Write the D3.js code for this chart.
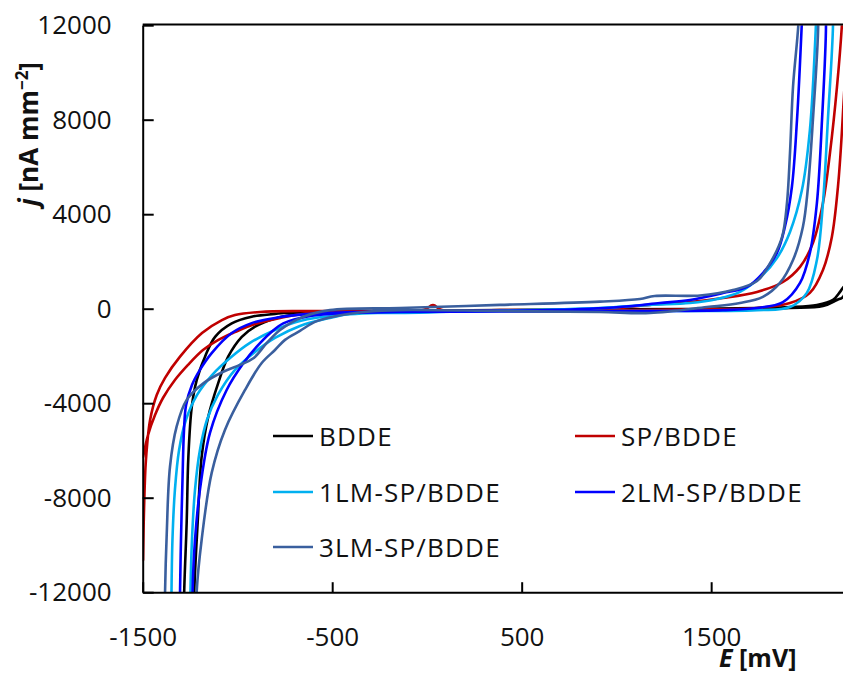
<!DOCTYPE html>
<html>
<head>
<meta charset="utf-8">
<script src="https://cdn.jsdelivr.net/npm/d3@7"></script>
<style>
  html, body { margin: 0; padding: 0; background: #fff; }
  svg { display: block; }
  text { font-family: "Open Sans", "Lato", sans-serif; fill: #111; }
</style>
</head>
<body>
<svg id="chart" width="843" height="675"></svg>
<script>
// ---------------- data (E in mV, j in nA mm^-2) ----------------
const seriesNames = ["BDDE", "SP/BDDE", "1LM-SP/BDDE", "2LM-SP/BDDE", "3LM-SP/BDDE"];
const seriesColors = ["#000000", "#C00000", "#00B0F0", "#0000FF", "#3A5F9E"];

const xTickValues = [-1500, -500, 500, 1500];
const yTickValues = [-12000, -8000, -4000, 0, 4000, 8000, 12000];

const bdde = [
  [-1283,-13500],[-1281,-11980],[-1268,-9070],[-1259,-6270],[-1241,-4150],[-1215,-3020],[-1171,-2030],
  [-1118,-1190],[-1030,-620],[-925,-340],[-802,-220],[-661,-130],[-142,-100],[385,-60],[913,-30],
  [1388,-10],[1742,30],[1916,70],[2058,160],[2143,370],[2180,710],[2195,880],[2220,1050],
  [2195,495],[2164,370],[2090,110],[1916,30],[1546,-10],[913,-60],[385,-80],[-142,-120],[-512,-140],
  [-661,-200],[-802,-410],[-907,-760],[-977,-1190],[-1049,-2030],[-1102,-3160],[-1154,-4570],
  [-1189,-6270],[-1210,-9070],[-1228,-11980],[-1230,-13500]
];
const spBdde = [
  [-1498,-6280],[-1472,-5350],[-1435,-4500],[-1393,-3780],[-1330,-3020],[-1261,-2380],
  [-1182,-1750],[-1103,-1330],[-1013,-990],[-907,-650],[-775,-390],[-617,-180],[-316,-100],[-20,-60],
  [32,150],[80,-60],[385,-60],[913,-10],[1177,160],[1388,280],[1562,450],[1742,710],[1879,1130],
  [1969,1770],[2037,2780],[2090,4470],[2127,6590],[2164,9390],[2190,12010],[2198,13500],[2215,12000],
  [2195,8200],[2169,5150],[2137,3040],[2090,1640],[2021,670],[1916,240],[1742,30],[1441,-30],[913,-60],
  [385,-80],[-142,-100],[-512,-100],[-670,-100],[-881,-140],[-1013,-270],[-1082,-480],[-1187,-1030],
  [-1303,-2030],[-1382,-2930],[-1426,-3650],[-1461,-4710],[-1483,-6410],[-1493,-8520],[-1498,-10640]
];
const lm1 = [
  [-1349,-13000],[-1348,-11990],[-1343,-9790],[-1330,-7670],[-1308,-5980],[-1272,-4710],[-1213,-3650],
  [-1134,-2810],[-1039,-2090],[-934,-1450],[-802,-900],[-670,-520],[-459,-270],[-142,-140],[385,-80],
  [913,30],[1177,160],[1388,240],[1531,410],[1652,710],[1773,1430],[1847,2140],[1916,3250],[1979,5020],
  [2021,7560],[2053,12010],[2060,13500],[2100,14500],[2140,13500],
  [2143,12010],[2116,7990],[2090,4470],[2058,2060],[2005,670],[1916,70],[1742,-60],[1177,-100],
  [385,-100],[-142,-180],[-406,-220],[-512,-390],[-670,-730],[-802,-1240],[-907,-1830],[-1013,-2590],
  [-1103,-3650],[-1161,-4710],[-1198,-5980],[-1224,-7670],[-1240,-9790],[-1248,-11990],[-1249,-13000]
];
const lm2 = [
  [-1304,-13000],[-1303,-11990],[-1298,-9790],[-1290,-7250],[-1282,-5130],[-1271,-4080],[-1240,-3230],
  [-1198,-2590],[-1136,-1880],[-1030,-1030],[-925,-610],[-802,-390],[-617,-220],[-353,-140],[122,-100],
  [649,-60],[1019,70],[1230,240],[1388,370],[1562,660],[1689,920],[1773,1510],[1847,2360],[1889,3460],
  [1926,5150],[1953,7990],[1978,12010],[1985,13500],[2045,14500],[2100,13500],
  [2106,12010],[2085,7990],[2058,4470],[2021,2360],[1969,1090],[1879,280],[1742,30],[1562,-60],
  [1177,-100],[385,-120],[-142,-140],[-406,-180],[-617,-310],[-758,-620],[-828,-1040],[-898,-1610],
  [-969,-2310],[-1057,-3440],[-1145,-5260],[-1198,-7670],[-1224,-9790],[-1237,-11990],[-1238,-13000]
];
const lm3 = [
  [-1383,-13000],[-1382,-11990],[-1373,-9490],[-1356,-6690],[-1321,-4990],[-1268,-3860],[-1180,-3160],
  [-1075,-2670],[-987,-2380],[-916,-2100],[-846,-1460],[-775,-900],[-652,-340],[-512,-60],[-142,30],
  [385,160],[913,300],[1124,410],[1202,540],[1441,560],[1615,790],[1742,1170],[1811,1930],[1874,3030],
  [1900,4470],[1916,6590],[1932,9390],[1960,12010],[1966,13500],[2015,14500],[2060,13500],
  [2065,12010],[2037,7990],[2011,5150],[1984,3460],[1932,2060],[1863,1090],[1773,500],[1652,240],
  [1478,70],[1177,-180],[913,-140],[385,-100],[-142,-60],[-316,-130],[-496,-340],[-591,-560],[-670,-940],
  [-749,-1320],[-802,-1750],[-872,-2300],[-960,-3440],[-1066,-5130],[-1136,-6950],[-1189,-9790],
  [-1215,-11980],[-1216,-13000]
];
const seriesData = [bdde, spBdde, lm1, lm2, lm3];

// ---------------- layout ----------------
const plot = { left: 142.7, right: 843.8, top: 25.2, bottom: 592.2 };
const svg = d3.select("#chart");

const x = d3.scaleLinear().domain([-1500, 2200]).range([plot.left, plot.right]);
const y = d3.scaleLinear().domain([-12000, 12000]).range([plot.bottom, plot.top]);

svg.append("defs").append("clipPath").attr("id", "clip")
  .append("rect")
  .attr("x", plot.left).attr("y", plot.top)
  .attr("width", plot.right - plot.left).attr("height", plot.bottom - plot.top);

// curves
const line = d3.line()
  .x(d => x(d[0])).y(d => y(d[1]))
  .curve(d3.curveCatmullRom.alpha(0.5));

const gLines = svg.append("g").attr("clip-path", "url(#clip)");
seriesData.forEach((data, i) => {
  gLines.append("path")
    .datum(data)
    .attr("d", line)
    .attr("fill", "none")
    .attr("stroke", seriesColors[i])
    .attr("stroke-width", 2.6)
    .attr("stroke-linejoin", "round")
    .attr("stroke-linecap", "round");
});

// axes
const yAxis = d3.axisLeft(y).tickValues(yTickValues).tickSizeInner(-11).tickSizeOuter(0).tickPadding(31)
  .tickFormat(d3.format("d"));
const gy = svg.append("g").attr("transform", `translate(${plot.left},0)`).call(yAxis);

const xAxis = d3.axisBottom(x).tickValues(xTickValues).tickSizeInner(-10).tickSizeOuter(0).tickPadding(35)
  .tickFormat(d3.format("d"));
const gx = svg.append("g").attr("transform", `translate(0,${plot.bottom})`).call(xAxis);

[gx, gy].forEach(g => {
  g.select(".domain").attr("stroke", "#000").attr("stroke-width", 2);
  g.selectAll(".tick line").attr("stroke", "#000").attr("stroke-width", 2);
  g.selectAll(".tick text").attr("font-size", 26).attr("font-family", "'Open Sans', sans-serif").attr("fill", "#111");
});
gy.selectAll(".tick text").text(d => d < 0 ? "-" + Math.abs(d) : d);
gx.selectAll(".tick text").text(d => d < 0 ? "-" + Math.abs(d) : d);

// top border
svg.append("line")
  .attr("x1", plot.left).attr("x2", plot.right)
  .attr("y1", plot.top - 0.7).attr("y2", plot.top - 0.7)
  .attr("stroke", "#000").attr("stroke-width", 2);

// axis titles
const yt = svg.append("text")
  .attr("transform", "translate(38,134) rotate(-90)")
  .attr("text-anchor", "middle")
  .attr("font-size", 26).attr("font-weight", "bold");
yt.append("tspan").attr("font-style", "italic").text("j");
yt.append("tspan").text(" [nA mm");
yt.append("tspan").attr("font-size", 17).attr("dy", -10).text("\u22122");
yt.append("tspan").attr("dy", 10).text("]");

const xt = svg.append("text")
  .attr("x", 719).attr("y", 667)
  .attr("font-size", 25).attr("font-weight", "bold");
xt.append("tspan").attr("font-style", "italic").text("E");
xt.append("tspan").text(" [mV]");

// legend
const legendPos = [[273, 436], [575, 436], [273, 492], [575, 492], [273, 547]];
seriesNames.forEach((name, i) => {
  const [lx, ly] = legendPos[i];
  svg.append("line")
    .attr("x1", lx).attr("x2", lx + 40)
    .attr("y1", ly).attr("y2", ly)
    .attr("stroke", seriesColors[i]).attr("stroke-width", 2.6);
  svg.append("text")
    .attr("x", lx + 46).attr("y", ly + 9.5)
    .attr("font-size", 26)
    .attr("letter-spacing", 1.2)
    .text(name);
});
</script>
</body>
</html>
